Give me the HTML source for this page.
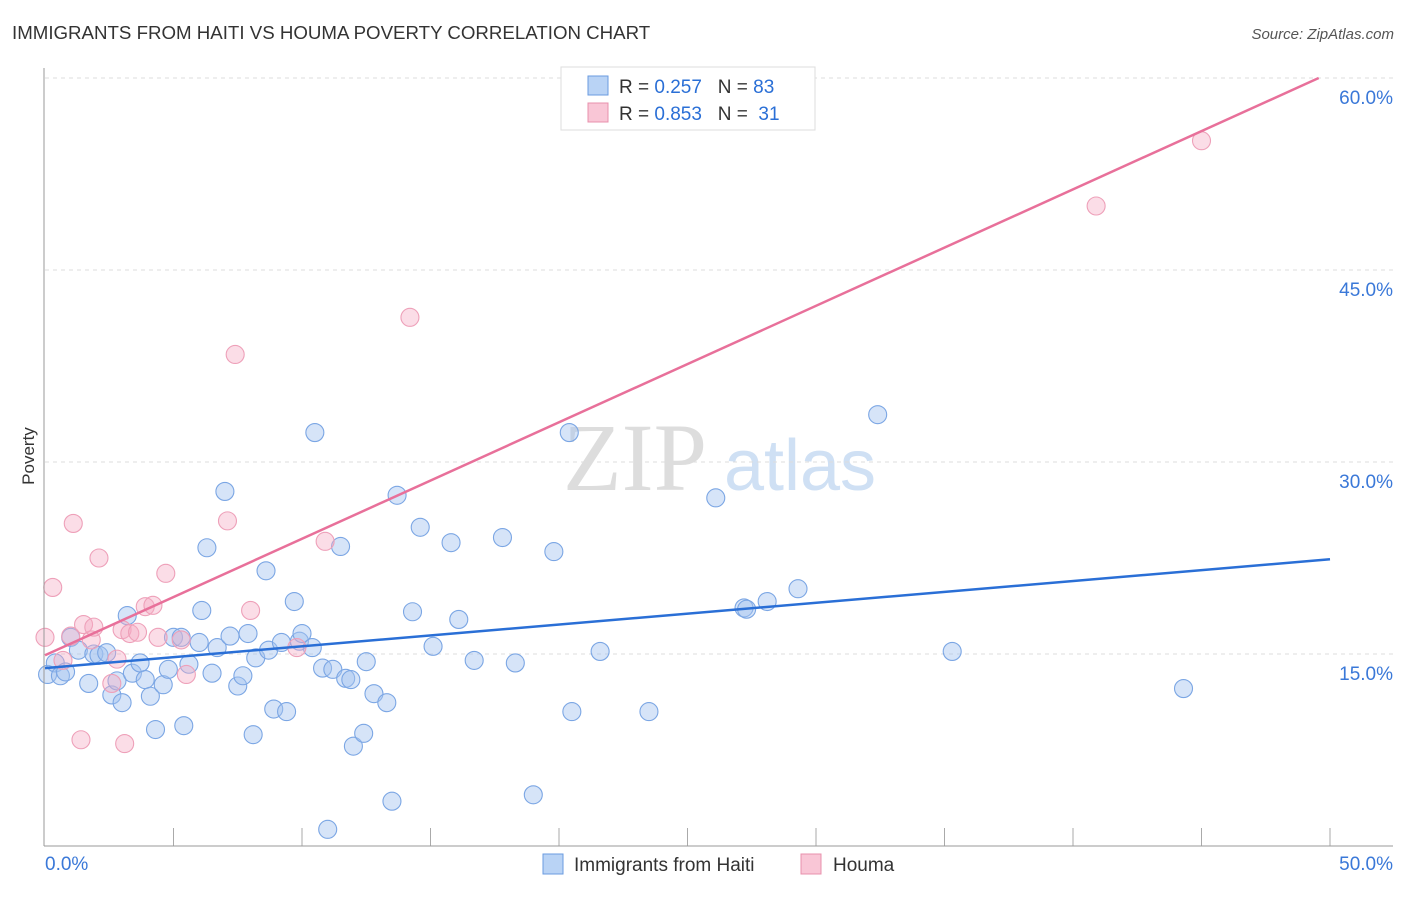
<!DOCTYPE html>
<html><head><meta charset="utf-8"><style>
body{margin:0;background:#fff;font-family:"Liberation Sans",sans-serif;}
svg text{font-family:"Liberation Sans",sans-serif;}
</style></head><body>
<svg id="chart" width="1406" height="892">
<text x="12" y="39" font-size="18.7" fill="#333">IMMIGRANTS FROM HAITI VS HOUMA POVERTY CORRELATION CHART</text>
<text x="1394" y="39" font-size="15" fill="#555" font-style="italic" text-anchor="end">Source: ZipAtlas.com</text>
<text x="34" y="456" font-size="17" fill="#333" transform="rotate(-90 34 456)" text-anchor="middle">Poverty</text>
<text x="635" y="490" font-size="96" fill="#ddd" text-anchor="middle" style="font-family:'Liberation Serif',serif">ZIP</text>
<text x="800" y="490" font-size="72" fill="#cfe0f4" text-anchor="middle">atlas</text>
<g id="grid"></g><g id="pts"></g><g id="lines"></g>
<line x1="44" y1="68" x2="44" y2="846" stroke="#999"/>
<line x1="44" y1="846" x2="1393" y2="846" stroke="#999"/>
<text x="45" y="870" font-size="19" fill="#3a78d8">0.0%</text>
<text x="1393" y="870" font-size="19" fill="#3a78d8" text-anchor="end">50.0%</text>
<g>
<rect x="561" y="67" width="254" height="63" fill="#fff" stroke="#ddd"/>
<rect x="588" y="76" width="20" height="19" fill="#b9d3f5" stroke="#6a9be0"/>
<rect x="588" y="103" width="20" height="19" fill="#f9c6d6" stroke="#e890ac"/>
<text x="619" y="93" font-size="19" fill="#333">R = <tspan fill="#2a6fd6">0.257</tspan>&#160;&#160;&#160;N = <tspan fill="#2a6fd6">83</tspan></text>
<text x="619" y="120" font-size="19" fill="#333">R = <tspan fill="#2a6fd6">0.853</tspan>&#160;&#160;&#160;N = &#160;<tspan fill="#2a6fd6">31</tspan></text>
</g>
<g>
<rect x="543" y="854" width="20" height="20" fill="#b9d3f5" stroke="#6a9be0"/>
<text x="574" y="871" font-size="19" fill="#333">Immigrants from Haiti</text>
<rect x="801" y="854" width="20" height="20" fill="#f9c6d6" stroke="#e890ac"/>
<text x="833" y="871" font-size="19" fill="#333">Houma</text>
</g>
</svg>
<script>
const haitiX=[0.1,0.4,0.6,0.8,1.0,1.3,1.7,1.9,2.1,2.4,2.6,2.8,3.0,3.2,3.4,3.7,3.9,4.1,4.3,4.6,4.8,5.0,5.3,5.4,5.6,6.0,6.1,6.3,6.5,6.7,7.0,7.2,7.5,7.7,7.9,8.1,8.2,8.6,8.7,8.9,9.2,9.4,9.7,9.9,10.0,10.4,10.5,10.8,11.0,11.2,11.5,11.7,11.9,12.0,12.4,12.5,12.8,13.3,13.5,13.7,14.3,14.6,15.1,15.8,16.1,16.7,17.8,18.3,19.0,19.8,20.4,20.5,21.6,23.5,26.1,27.2,27.3,28.1,29.3,32.4,35.3,44.3];
const haitiY=[13.4,14.3,13.3,13.6,16.3,15.3,12.7,15.0,14.9,15.1,11.8,12.9,11.2,18.0,13.5,14.3,13.0,11.7,9.1,12.6,13.8,16.3,16.3,9.4,14.2,15.9,18.4,23.3,13.5,15.5,27.7,16.4,12.5,13.3,16.6,8.7,14.7,21.5,15.3,10.7,15.9,10.5,19.1,16.0,16.6,15.5,32.3,13.9,1.3,13.8,23.4,13.1,13.0,7.8,8.8,14.4,11.9,11.2,3.5,27.4,18.3,24.9,15.6,23.7,17.7,14.5,24.1,14.3,4.0,23.0,32.3,10.5,15.2,10.5,27.2,18.6,18.5,19.1,20.1,33.7,15.2,12.3];
const houmaX=[0,0.3,0.7,1.0,1.1,1.4,1.5,1.8,1.9,2.1,2.6,2.8,3.0,3.1,3.3,3.6,3.9,4.2,4.4,4.7,5.3,5.5,7.1,7.4,8.0,9.8,10.9,14.2,40.9,45.0];
const houmaY=[16.3,20.2,14.5,16.4,25.2,8.3,17.3,16.1,17.1,22.5,12.7,14.6,16.9,8.0,16.6,16.7,18.7,18.8,16.3,21.3,16.1,13.4,25.4,38.4,18.4,15.5,23.8,41.3,50.0,55.1];
const trendStart=[13.9,14.9];
const trendSlope=[0.17,0.91];
const yTicks=[15,30,45,60];
const yTickLabels=["15.0%","30.0%","45.0%","60.0%"];
const NS="http://www.w3.org/2000/svg";
const sx=v=>45+v/50*1285, sy=v=>846-v/15*192;
function mk(t,a,p){const e=document.createElementNS(NS,t);for(const k in a)e.setAttribute(k,a[k]);document.getElementById(p).appendChild(e);return e;}
yTicks.forEach((t,i)=>{
 const l=mk('line',{x1:45,x2:1393,y1:sy(t),y2:sy(t),stroke:'#ddd','stroke-dasharray':'4 4'},'grid');
 
 
 const tx=mk('text',{x:1393,y:sy(t)+26,'font-size':19,fill:'#3a78d8','text-anchor':'end'},'grid');
 tx.textContent=yTickLabels[i];
 
 
});
for(let k=1;k<=10;k++){
 const l=mk('line',{x1:sx(k*5),x2:sx(k*5),y1:828,y2:846,stroke:'#aaa'},'grid');
 
 
}
haitiX.forEach((x,i)=>{
 const c=mk('circle',{cx:sx(x),cy:sy(haitiY[i]),r:9,fill:'rgba(164,196,240,0.45)',stroke:'#7ba6e4','stroke-width':1.1},'pts');
 
 
});
houmaX.forEach((x,i)=>{
 const c=mk('circle',{cx:sx(x),cy:sy(houmaY[i]),r:9,fill:'rgba(245,170,195,0.4)',stroke:'#eea0b9','stroke-width':1.1},'pts');
 
 
});
const cols=['#2a6fd6','#e8709a'];
[0,1].forEach(s=>{
 let x2=50,y2=trendStart[s]+trendSlope[s]*50;
 if(y2>60){x2=(60-trendStart[s])/trendSlope[s];y2=60;}
 const l=mk('line',{x1:sx(0),y1:sy(trendStart[s]),x2:sx(x2),y2:sy(y2),stroke:cols[s],'stroke-width':2.5},'lines');
 
 
});
</script>
</body></html>
